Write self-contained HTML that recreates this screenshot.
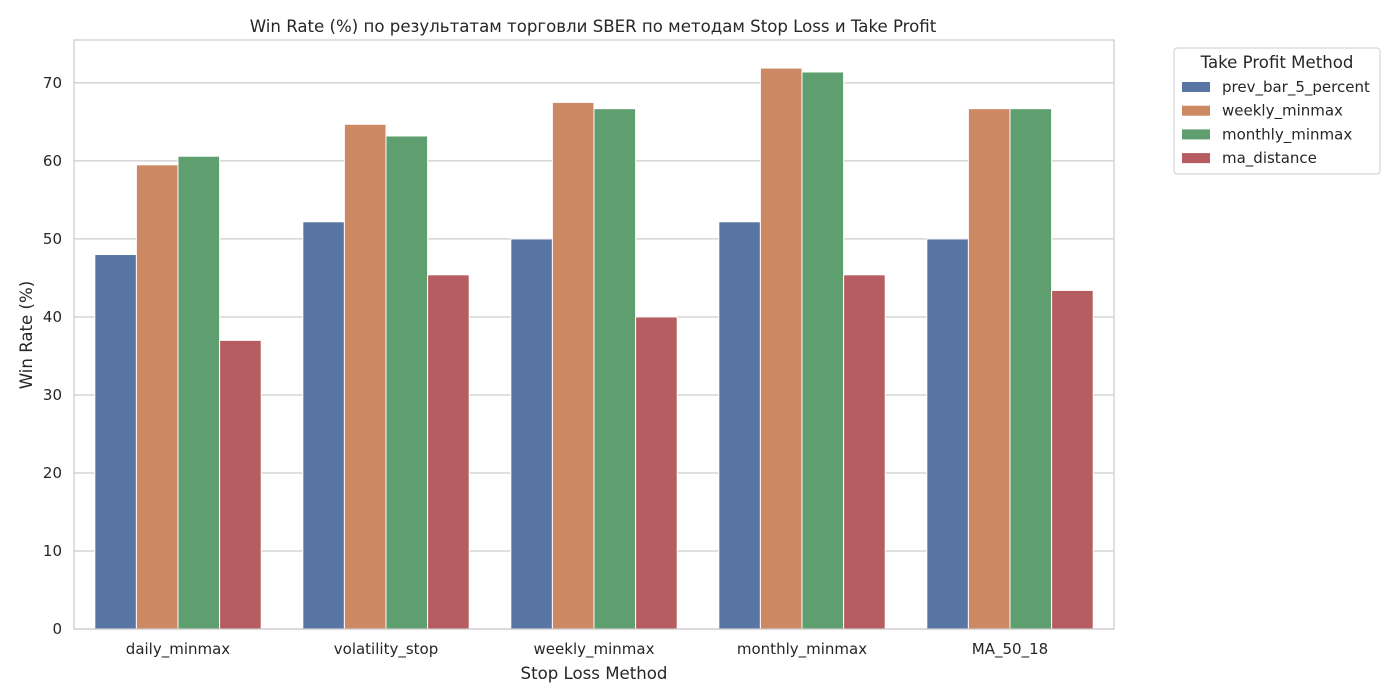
<!DOCTYPE html>
<html><head><meta charset="utf-8"><style>
body{margin:0;background:#fff;}
svg{display:block;font-family:"DejaVu Sans","Liberation Sans",sans-serif;}
</style></head><body>
<svg id="chart" width="1400" height="700">
<rect x="0" y="0" width="1400" height="700" fill="#fff"/>
<g id="grid"></g>
<g id="bars"></g>
<rect x="74" y="40" width="1040" height="589" fill="none" stroke="#cccccc" stroke-width="1.25"/>
<g id="xt"></g><g id="yt"></g>
<text x="593" y="32" text-anchor="middle" font-size="16.6" fill="#262626">Win Rate (%) по результатам торговли SBER по методам Stop Loss и Take Profit</text>
<text x="594" y="679" text-anchor="middle" font-size="16.6" fill="#262626">Stop Loss Method</text>
<text transform="translate(32,335) rotate(-90)" text-anchor="middle" font-size="16.6" fill="#262626">Win Rate (%)</text>
<g id="legend">
<rect x="1174" y="48" width="206" height="126" rx="3" fill="#fff" stroke="#cccccc"/>
<text x="1277" y="68" text-anchor="middle" font-size="16.6" fill="#262626">Take Profit Method</text>
</g>
</svg>
<script>
const categories=["daily_minmax","volatility_stop","weekly_minmax","monthly_minmax","MA_50_18"];
const seriesNames=["prev_bar_5_percent","weekly_minmax","monthly_minmax","ma_distance"];
const prevBar=[48.0,52.2,50.0,52.2,50.0];
const weeklyTP=[59.5,64.7,67.5,71.9,66.7];
const monthlyTP=[60.6,63.2,66.7,71.4,66.7];
const maDistance=[37.0,45.4,40.0,45.4,43.4];
const yTicks=[0,10,20,30,40,50,60,70];
const colors=["#5975a4","#cc8963","#5f9e6e","#b55d60"];
const series=[prevBar,weeklyTP,monthlyTP,maDistance];
const NS="http://www.w3.org/2000/svg";
const L=74,R=1114,T=40,B=629,yMax=75.5;
const y=v=>B-v/yMax*(B-T);
const bandW=(R-L)/categories.length;
const xc=i=>L+bandW*(i+0.5);
function mk(tag,attrs,parent,text){const e=document.createElementNS(NS,tag);for(const k in attrs)e.setAttribute(k,attrs[k]);if(text!==undefined)e.textContent=text;(typeof parent==='string'?document.getElementById(parent):parent).appendChild(e);return e;}
yTicks.forEach(t=>{
 const l=mk('line',{x1:L,x2:R,y1:y(t),y2:y(t),stroke:'#cccccc','stroke-width':1.25},'grid');
 
 
 const tx=mk('text',{x:L-12,y:y(t)+5,'text-anchor':'end','font-size':15,fill:'#262626'},'yt',String(t));
 
 
});
const gw=bandW*0.8,bw=gw/series.length;
categories.forEach((c,i)=>{
 const tx=mk('text',{x:xc(i),y:654,'text-anchor':'middle','font-size':15,fill:'#262626'},'xt',c);
 
 
 series.forEach((s,j)=>{
  const x0=xc(i)-gw/2+j*bw;
  const r=mk('rect',{x:x0,y:y(s[i]),width:bw,height:B-y(s[i]),fill:colors[j],stroke:'#fff','stroke-width':1},'bars');
  
  
 });
});
const lg=document.getElementById('legend');
seriesNames.forEach((n,j)=>{
 const yy=87+j*23.7;
 const p=mk('rect',{x:1182,y:yy-5,width:28,height:10,fill:colors[j]},lg);
 
 
 const t=mk('text',{x:1222,y:yy+5,'font-size':15,fill:'#262626'},lg,n);
 
 
});
</script>
</body></html>
